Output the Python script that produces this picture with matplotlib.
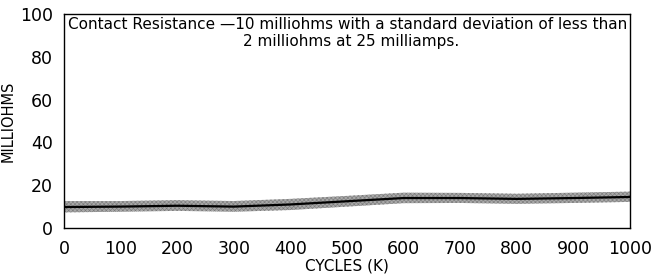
import matplotlib
matplotlib.use("Agg")
import matplotlib.pyplot as plt

# data
cycles = [0, 100, 200, 300, 400, 500, 600, 700, 800, 900, 1000]
mean_mohm = [9.8, 10.0, 10.4, 10.0, 11.0, 12.5, 14.0, 14.0, 13.6, 14.0, 14.5]
band_lo = [7.3, 7.6, 8.0, 7.6, 8.4, 10.0, 11.6, 11.7, 11.3, 11.7, 12.2]
band_hi = [12.6, 12.6, 13.0, 12.6, 13.6, 15.0, 16.5, 16.4, 16.0, 16.5, 17.0]
xticks = [0, 100, 200, 300, 400, 500, 600, 700, 800, 900, 1000]
yticks = [0, 20, 40, 60, 80, 100]

plt.rcParams['font.family'] = ['DejaVu Sans']
plt.rcParams['hatch.linewidth'] = 0.4

fig = plt.figure(figsize=(6.51, 2.77), dpi=100)
ax = fig.add_axes([64 / 651, 1 - 228 / 277, (630 - 64) / 651, (228 - 14) / 277])

# shaded band + mean line
ax.fill_between(cycles, band_lo, band_hi, facecolor='#a9a9a9',
                edgecolor='#7a7a7a', hatch='xxxxxxxx', linewidth=0)
ax.plot(cycles, mean_mohm, color='black', linewidth=1.6)

ax.set_xlim(0, 1000)
ax.set_ylim(0, 100)
ax.set_xticks(xticks)
ax.set_yticks(yticks)
ax.tick_params(axis='x', length=0, labelsize=12.5, pad=9)
ax.tick_params(axis='y', length=0, labelsize=12.5, pad=8)
for s in ax.spines.values():
    s.set_linewidth(1.0)

ax.set_xlabel('CYCLES (K)', fontsize=11, labelpad=0)
ax.set_ylabel('MILLIOHMS', fontsize=10.5)
ax.yaxis.set_label_coords(-0.085, 0.5)

ax.text(0.007, 0.985, 'Contact Resistance \u201410 milliohms with a standard deviation of less than',
        transform=ax.transAxes, ha='left', va='top', fontsize=11)
ax.text(0.316, 0.905, '2 milliohms at 25 milliamps.',
        transform=ax.transAxes, ha='left', va='top', fontsize=11)

fig.savefig('out.png', dpi=100)
